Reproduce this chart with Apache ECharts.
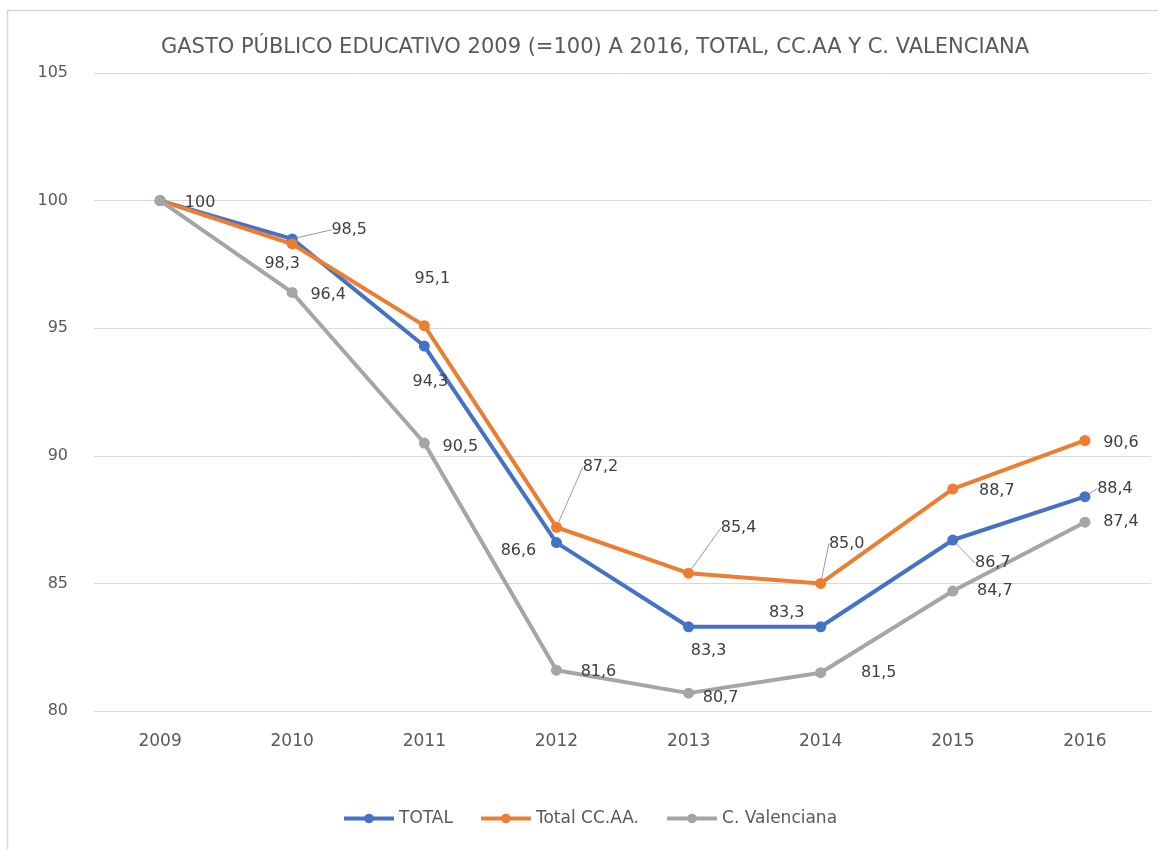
<!DOCTYPE html>
<html>
<head>
<meta charset="utf-8">
<script src="https://cdn.jsdelivr.net/npm/echarts@6/dist/echarts.min.js"></script>
<style>
  html, body { margin: 0; padding: 0; background: #fff; }
  #chart { width: 1158px; height: 849px; }
</style>
</head>
<body>
<div id="chart"></div>
<script>
const years = ['2009', '2010', '2011', '2012', '2013', '2014', '2015', '2016'];
const total = [100, 98.5, 94.3, 86.6, 83.3, 83.3, 86.7, 88.4];
const totalCCAA = [100, 98.3, 95.1, 87.2, 85.4, 85.0, 88.7, 90.6];
const valenciana = [100, 96.4, 90.5, 81.6, 80.7, 81.5, 84.7, 87.4];

// desplazamiento de etiquetas respecto al punto [dx, dy], null = sin etiqueta
const totalLabelPos = [null, [57, -9], [6, 36], [-38, 8], [20, 24], [-34, -14], [40, 23], [30, -8]];
const ccaaLabelPos = [null, [-10, 20], [8, -47], [44, -60], [50, -45], [26, -40], [44, 2], [36, 2]];
const valLabelPos = [[40, 2], [36, 2], [36, 4], [42, 2], [32, 5], [58, 0], [42, 0], [36, 0]];
const totalLeader = [1, 6, 7];
const ccaaLeader = [3, 4, 5];

const FONT = 'DejaVu Sans';
const fmt = v => v === 100 ? '100' : v.toFixed(1).replace('.', ',');

function buildData(values, leaders) {
  return values.map((v, i) => ({
    value: v,
    labelLine: { show: leaders.indexOf(i) >= 0 }
  }));
}

function layoutFor(pos) {
  return params => {
    const p = pos[params.dataIndex];
    if (!p) return { x: -100, y: -100 };
    return { dx: p[0], dy: p[1] };
  };
}

const chart = echarts.init(document.getElementById('chart'));

function lineSeries(name, color, values, pos, leaders) {
  return {
    name: name,
    type: 'line',
    data: buildData(values, leaders),
    symbol: 'circle',
    symbolSize: 11,
    lineStyle: { width: 4, color: color },
    itemStyle: { color: color },
    label: {
      show: true,
      position: 'inside',
      formatter: p => fmt(p.value),
      color: '#404040',
      fontSize: 16,
      fontFamily: FONT
    },
    labelLine: { show: false, lineStyle: { color: '#9a9a9a', width: 1 }, smooth: false },
    labelLayout: layoutFor(pos),
    emphasis: { disabled: true }
  };
}

chart.setOption({
  animation: false,
  textStyle: { fontFamily: FONT },
  title: {
    text: 'GASTO PÚBLICO EDUCATIVO 2009 (=100) A 2016, TOTAL, CC.AA Y C. VALENCIANA',
    left: 590,
    textAlign: 'center',
    top: 32,
    textStyle: { color: '#595959', fontSize: 21, fontWeight: 'normal', fontFamily: FONT }
  },
  graphic: [{
    type: 'rect',
    shape: { x: 7.5, y: 10.5, width: 1300, height: 1000 },
    style: { fill: 'none', stroke: '#d9d9d9', lineWidth: 1.5 },
    silent: true,
    z: -1
  }],
  legend: {
    bottom: 17,
    left: 337,
    itemWidth: 50,
    itemHeight: 12,
    itemGap: 26,
    lineStyle: { width: 4 },
    textStyle: { color: '#595959', fontSize: 17, fontFamily: FONT },
    data: ['TOTAL', 'Total CC.AA.', 'C. Valenciana']
  },
  grid: { left: 94, right: 7, top: 73, bottom: 138 },
  xAxis: {
    type: 'category',
    data: years,
    boundaryGap: true,
    axisLine: { lineStyle: { color: '#d9d9d9' } },
    axisTick: { show: false },
    axisLabel: { color: '#595959', fontSize: 17, margin: 22, fontFamily: FONT }
  },
  yAxis: {
    type: 'value',
    min: 80,
    max: 105,
    interval: 5,
    axisLine: { show: false },
    axisTick: { show: false },
    axisLabel: { color: '#595959', fontSize: 16, margin: 26, fontFamily: FONT },
    splitLine: { lineStyle: { color: '#d9d9d9', width: 1 } }
  },
  series: [
    lineSeries('TOTAL', '#4472C4', total, totalLabelPos, totalLeader),
    lineSeries('Total CC.AA.', '#ED7D31', totalCCAA, ccaaLabelPos, ccaaLeader),
    lineSeries('C. Valenciana', '#A5A5A5', valenciana, valLabelPos, [])
  ]
});
</script>
</body>
</html>
